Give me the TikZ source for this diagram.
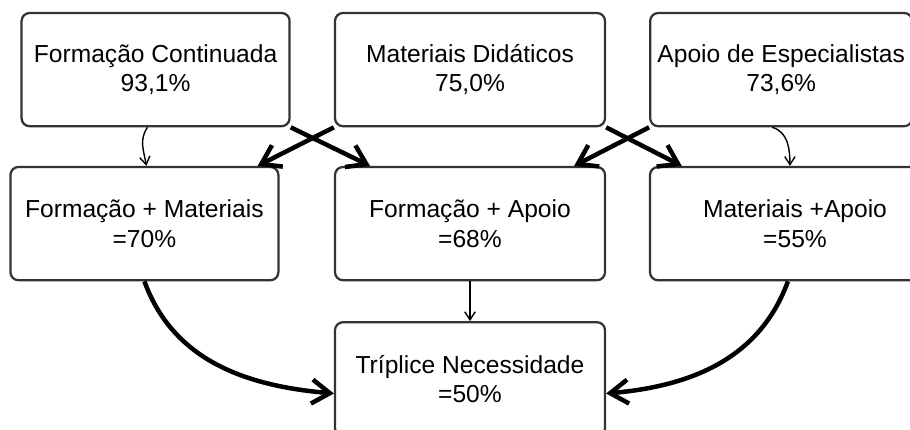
\documentclass[tikz,border=0pt]{standalone}
\usepackage{fontspec}
\setmainfont{Liberation Sans}
\usetikzlibrary{arrows.meta,positioning}

\begin{document}
\begin{tikzpicture}[
      node distance=3.85cm, on grid,
      box/.style={rectangle, rounded corners=0.2cm, draw=black!80, line width=1.6pt, align=center,
                  minimum width=6.75cm, minimum height=2.83cm, font=\fontsize{17.5pt}{21pt}\selectfont},
      link/.style={-{Straight Barb[length=2mm,width=2.6mm]}, line width=1pt},
      boldlink/.style={-{Straight Barb[length=4.5mm,width=6mm]}, line width=3.2pt}]

  \useasboundingbox (0,0) rectangle (22.75,-10.725);

  % Nodes
  \node[box, minimum width=6.7cm] (cont) at (3.89,-1.74) {Formação Continuada\\93,1\%};
  \node[box, right=7.86cm of cont] (mat) {Materiais Didáticos\\75,0\%};
  \node[box, minimum width=6.55cm, right=7.78cm of mat] (esp) {Apoio de Especialistas\\73,6\%};
  \node[box, below=of mat] (formapoio) {Formação + Apoio\\=68\%};
  \node[box, minimum width=6.7cm, left=8.14cm of formapoio] (formmat) {Formação + Materiais\\=70\%};
  \node[box, minimum width=7.25cm, right=8.125cm of formapoio] (matapoio) {Materiais +Apoio\\=55\%};
  \node[box, minimum height=2.85cm, below=3.89cm of formapoio] (triplice) {Tríplice Necessidade\\=50\%};

  % Edges
  \draw[link] (cont.-98) to[out=-125,in=100] (formmat.88);
  \draw[link] (esp.-99) to[out=-15,in=90] (matapoio.95);
  \draw[boldlink] (mat.south west) -- (formmat.27);
  \draw[boldlink] (cont.south east) -- (formapoio.150);
  \draw[boldlink] (mat.south east) -- (matapoio.153);
  \draw[boldlink] (esp.south west) -- (formapoio.29);
  \draw[link] (formapoio) -- (triplice);
  \draw[boldlink] (formmat.south) to[out=-70,in=175] (triplice.186);
  \draw[boldlink] (matapoio.-97) to[out=-110,in=5] (triplice.-6);

\end{tikzpicture}
\end{document}
